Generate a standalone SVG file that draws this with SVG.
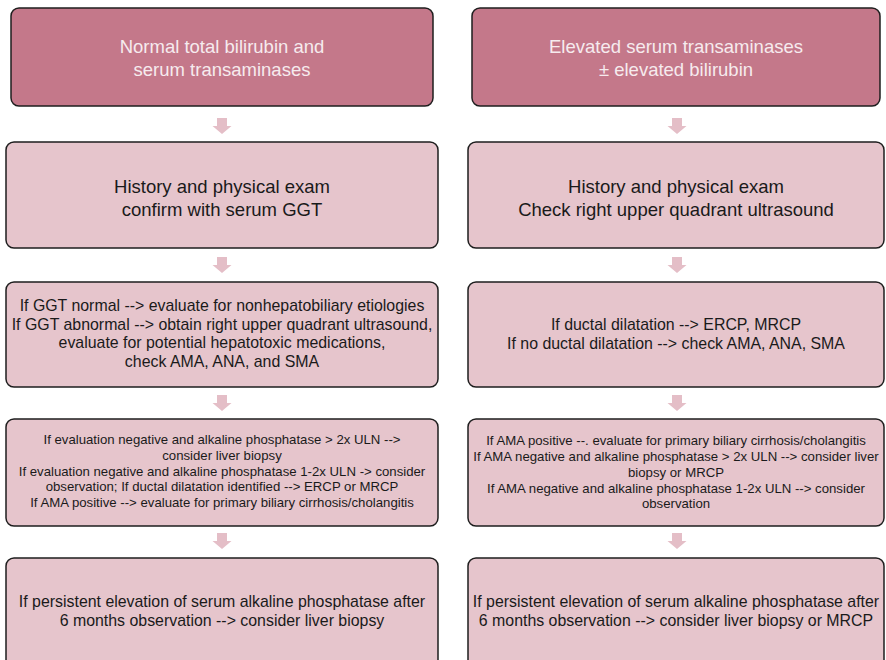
<svg xmlns="http://www.w3.org/2000/svg" width="886" height="660" viewBox="0 0 886 660">
  <defs>
    <style>
      .head { fill: #C4788A; stroke: #1e1e1e; stroke-width: 1.5; }
      .step { fill: #E6C5CC; stroke: #1e1e1e; stroke-width: 1.5; }
      .arrow { fill: #E4BEC7; stroke: none; }
      text { font-family: "Liberation Sans", Arial, Helvetica, sans-serif; text-anchor: middle; }
      .t-head { fill: #F6EBEE; font-size: 18.5px; }
      .t-big { fill: #1a1a1a; font-size: 18.5px; }
      .t-mid { fill: #1a1a1a; font-size: 15.9px; }
      .t-small { fill: #1a1a1a; font-size: 13.2px; }
    </style>
    <!-- block arrow pointing down, centred on x=0, top at y=0 -->
    <path id="down" d="M -5 0 H 5 V 8 H 9.5 L 0 16 L -9.5 8 H -5 Z"/>
  </defs>

  <rect width="886" height="660" fill="#ffffff"/>

  <!-- connectors -->
  <g id="connectors" class="arrow">
    <use href="#down" x="222" y="118"/>
    <use href="#down" x="222" y="257"/>
    <use href="#down" x="222" y="395"/>
    <use href="#down" x="222" y="533"/>
    <use href="#down" x="677" y="118"/>
    <use href="#down" x="677" y="257"/>
    <use href="#down" x="677" y="395"/>
    <use href="#down" x="677" y="533"/>
  </g>

  <!-- left column -->
  <g id="left-start">
    <rect class="head" x="11" y="8" width="422" height="98" rx="8"/>
    <text class="t-head" x="222"><tspan x="222" y="53">Normal total bilirubin and</tspan><tspan x="222" y="76">serum transaminases</tspan></text>
  </g>
  <g id="left-history">
    <rect class="step" x="6" y="142" width="432" height="106" rx="8"/>
    <text class="t-big"><tspan x="222" y="193">History and physical exam</tspan><tspan x="222" y="216">confirm with serum GGT</tspan></text>
  </g>
  <g id="left-ggt">
    <rect class="step" x="6" y="282" width="432" height="105" rx="8"/>
    <text class="t-mid"><tspan x="222" y="311">If GGT normal --&gt; evaluate for nonhepatobiliary etiologies</tspan><tspan x="222" y="330">If GGT abnormal --&gt; obtain right upper quadrant ultrasound,</tspan><tspan x="222" y="348">evaluate for potential hepatotoxic medications,</tspan><tspan x="222" y="367">check AMA, ANA, and SMA</tspan></text>
  </g>
  <g id="left-evaluation">
    <rect class="step" x="6" y="419" width="432" height="107" rx="8"/>
    <text class="t-small"><tspan x="222" y="444">If evaluation negative and alkaline phosphatase &gt; 2x ULN --&gt;</tspan><tspan x="222" y="460">consider liver biopsy</tspan><tspan x="222" y="475.5">If evaluation negative and alkaline phosphatase 1-2x ULN -&gt; consider</tspan><tspan x="222" y="491">observation; If ductal dilatation identified --&gt; ERCP or MRCP</tspan><tspan x="222" y="506.5">If AMA positive --&gt; evaluate for primary biliary cirrhosis/cholangitis</tspan></text>
  </g>
  <g id="left-followup">
    <rect class="step" x="6" y="558" width="432" height="110" rx="8"/>
    <text class="t-mid"><tspan x="222" y="607">If persistent elevation of serum alkaline phosphatase after</tspan><tspan x="222" y="625.5">6 months observation --&gt; consider liver biopsy</tspan></text>
  </g>

  <!-- right column -->
  <g id="right-start">
    <rect class="head" x="472" y="8" width="408" height="98" rx="8"/>
    <text class="t-head"><tspan x="676" y="53">Elevated serum transaminases</tspan><tspan x="676" y="76">± elevated bilirubin</tspan></text>
  </g>
  <g id="right-history">
    <rect class="step" x="468" y="142" width="416" height="106" rx="8"/>
    <text class="t-big"><tspan x="676" y="193">History and physical exam</tspan><tspan x="676" y="216">Check right upper quadrant ultrasound</tspan></text>
  </g>
  <g id="right-ultrasound">
    <rect class="step" x="468" y="282" width="416" height="105" rx="8"/>
    <text class="t-mid"><tspan x="676" y="330">If ductal dilatation --&gt; ERCP, MRCP</tspan><tspan x="676" y="348.5">If no ductal dilatation --&gt; check AMA, ANA, SMA</tspan></text>
  </g>
  <g id="right-ama">
    <rect class="step" x="468" y="419" width="416" height="107" rx="8"/>
    <text class="t-small"><tspan x="676" y="445">If AMA positive --. evaluate for primary biliary cirrhosis/cholangitis</tspan><tspan x="676" y="461">If AMA negative and alkaline phosphatase &gt; 2x ULN --&gt; consider liver</tspan><tspan x="676" y="476.5">biopsy or MRCP</tspan><tspan x="676" y="492.5">If AMA negative and alkaline phosphatase 1-2x ULN --&gt; consider</tspan><tspan x="676" y="508">observation</tspan></text>
  </g>
  <g id="right-followup">
    <rect class="step" x="468" y="558" width="416" height="110" rx="8"/>
    <text class="t-mid"><tspan x="676" y="607">If persistent elevation of serum alkaline phosphatase after</tspan><tspan x="676" y="625.5">6 months observation --&gt; consider liver biopsy or MRCP</tspan></text>
  </g>
</svg>
